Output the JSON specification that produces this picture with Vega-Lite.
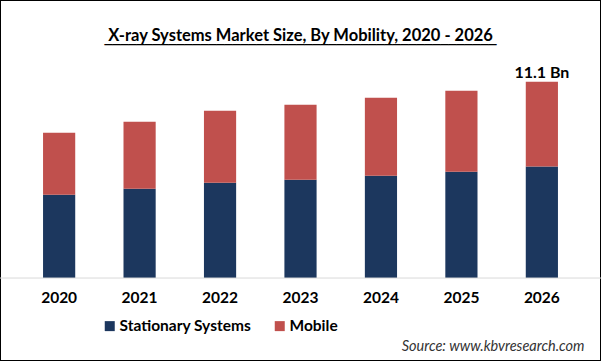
{
  "$schema": "https://vega.github.io/schema/vega-lite/v6.json",
  "width": 601,
  "height": 361,
  "autosize": "none",
  "padding": 0,
  "background": "white",
  "config": {
    "view": {"stroke": "black", "strokeWidth": 2},
    "font": "Lato"
  },
  "title": {
    "text": "X-ray Systems Market Size, By Mobility, 2020 - 2026",
    "subtitle": "_________________________________________________",
    "font": "Lato",
    "fontSize": 16.5,
    "fontWeight": "bold",
    "color": "#000000",
    "subtitleFont": "DejaVu Sans",
    "subtitleFontSize": 16,
    "subtitleColor": "#000000",
    "subtitlePadding": -16,
    "anchor": "middle",
    "frame": "group",
    "offset": -44
  },
  "data": {
    "values": [
      {"year": "2020", "segment": "Stationary Systems", "value": 4.71},
      {"year": "2020", "segment": "Mobile", "value": 3.51},
      {"year": "2021", "segment": "Stationary Systems", "value": 5.05},
      {"year": "2021", "segment": "Mobile", "value": 3.79},
      {"year": "2022", "segment": "Stationary Systems", "value": 5.39},
      {"year": "2022", "segment": "Mobile", "value": 4.07},
      {"year": "2023", "segment": "Stationary Systems", "value": 5.56},
      {"year": "2023", "segment": "Mobile", "value": 4.24},
      {"year": "2024", "segment": "Stationary Systems", "value": 5.79},
      {"year": "2024", "segment": "Mobile", "value": 4.41},
      {"year": "2025", "segment": "Stationary Systems", "value": 6.01},
      {"year": "2025", "segment": "Mobile", "value": 4.58},
      {"year": "2026", "segment": "Stationary Systems", "value": 6.3},
      {"year": "2026", "segment": "Mobile", "value": 4.8}
    ]
  },
  "layer": [
    {
      "mark": {"type": "bar"},
      "encoding": {
        "x": {
          "field": "year",
          "type": "nominal",
          "scale": {"paddingInner": 0.6, "paddingOuter": 0.535},
          "axis": {
            "orient": "bottom",
            "offset": -83,
            "domain": false,
            "ticks": false,
            "labelAngle": 0,
            "labelFont": "Lato",
            "labelFontSize": 15.5,
            "labelFontWeight": "bold",
            "labelColor": "#000000",
            "labelPadding": 12,
            "title": "Source: www.kbvresearch.com",
            "titleFont": "Lato",
            "titleFontSize": 14.5,
            "titleFontWeight": "normal",
            "titleFontStyle": "italic",
            "titleColor": "#333333",
            "titleAlign": "right",
            "titleBaseline": "alphabetic",
            "titleX": 584,
            "titleY": 72
          }
        },
        "y": {
          "field": "value",
          "type": "quantitative",
          "stack": "zero",
          "scale": {"domain": [-4.69, 15.72], "nice": false, "zero": false},
          "axis": null
        },
        "color": {
          "field": "segment",
          "type": "nominal",
          "scale": {
            "domain": ["Stationary Systems", "Mobile"],
            "range": ["#1c375e", "#c0504d"]
          },
          "legend": {
            "orient": "none",
            "direction": "horizontal",
            "legendX": 102,
            "legendY": 318,
            "title": null,
            "symbolType": "square",
            "symbolSize": 100,
            "symbolStrokeWidth": 0,
            "labelFont": "Lato",
            "labelFontSize": 15.5,
            "labelFontWeight": "bold",
            "labelColor": "#000000",
            "labelOffset": 2,
            "columnPadding": 20
          }
        },
        "order": {"field": "segment", "type": "nominal", "sort": "descending"}
      }
    },
    {
      "data": {"values": [{"value": 0}]},
      "mark": {"type": "rule", "color": "#d9d9d9", "strokeWidth": 1},
      "encoding": {
        "y": {"field": "value", "type": "quantitative"}
      }
    },
    {
      "data": {"values": [{"year": "2026", "total": 11.1, "label": "11.1 Bn"}]},
      "mark": {
        "type": "text",
        "font": "Lato",
        "fontSize": 16,
        "fontWeight": "bold",
        "color": "#000000",
        "baseline": "alphabetic",
        "dy": -4
      },
      "encoding": {
        "x": {"field": "year", "type": "nominal"},
        "y": {"field": "total", "type": "quantitative"},
        "text": {"field": "label"}
      }
    }
  ]
}
